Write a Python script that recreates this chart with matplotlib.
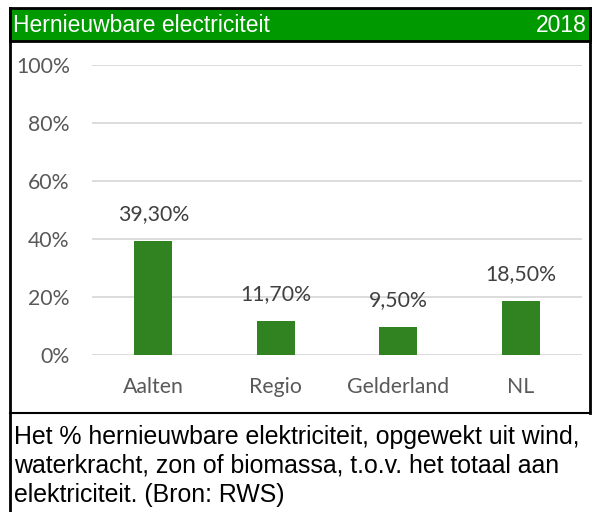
import matplotlib.pyplot as plt
from matplotlib.patches import Rectangle
from matplotlib.lines import Line2D

categories = ['Aalten', 'Regio', 'Gelderland', 'NL']
values = [39.3, 11.7, 9.5, 18.5]
yticks = [0, 20, 40, 60, 80, 100]
title = 'Hernieuwbare electriciteit'
year = '2018'
note_lines = ['Het % hernieuwbare elektriciteit, opgewekt uit wind,',
              'waterkracht, zon of biomassa, t.o.v. het totaal aan',
              'elektriciteit. (Bron: RWS)']

W, H = 593, 512
fig = plt.figure(figsize=(W / 100, H / 100), dpi=100)


def fx(px):
    return px / W


def fy(py):
    return 1 - py / H


# title band
fig.patches.append(Rectangle((fx(10), fy(41)), fx(580), (41 - 8) / H,
                             transform=fig.transFigure, facecolor='#009900',
                             edgecolor='black', linewidth=2))
fig.text(fx(13), fy(25), title, color='white', fontsize=16.5,
         family='Liberation Sans', va='center', ha='left')
fig.text(fx(587), fy(25), year, color='white', fontsize=16.5,
         family='Liberation Sans', va='center', ha='right')

# borders
fig.lines.append(Line2D([fx(10), fx(10)], [fy(8), fy(512)], transform=fig.transFigure,
                        color='black', linewidth=2))
fig.lines.append(Line2D([fx(590), fx(590)], [fy(8), fy(413)], transform=fig.transFigure,
                        color='black', linewidth=2))
fig.lines.append(Line2D([fx(10), fx(590)], [fy(413), fy(413)], transform=fig.transFigure,
                        color='black', linewidth=1.5))

# note
for i, line in enumerate(note_lines):
    fig.text(fx(14), fy(437 + 29 * i), line, color='black', fontsize=17.9,
             family='Liberation Sans', va='center', ha='left')

# chart
ax = fig.add_axes([fx(92), fy(355), 490 / W, 290 / H])
x = range(len(categories))
ax.bar(x, values, width=0.31, color='#318221', zorder=3)
for xi, v in zip(x, values):
    ax.annotate(f'{v:.2f}%'.replace('.', ','), (xi, v), xytext=(0, 19.5),
                textcoords='offset points', ha='center', va='center',
                fontsize=15.3, color='#404040', family='Lato')

ax.set_xlim(-0.5, 3.5)
ax.set_ylim(0, 100)
ax.set_yticks(yticks)
ax.set_yticklabels([f'{t}%' for t in yticks], family='Lato', fontsize=15.3, color='#595959')
ax.set_xticks(list(x))
ax.set_xticklabels(categories, family='Lato', fontsize=15.3, color='#595959')
ax.tick_params(axis='x', length=0, pad=16)
ax.tick_params(axis='y', length=0, pad=16)
ax.grid(axis='y', color='#d9d9d9', linewidth=1.3, zorder=0)
for s in ax.spines.values():
    s.set_visible(False)

fig.savefig('out.png', dpi=100)
